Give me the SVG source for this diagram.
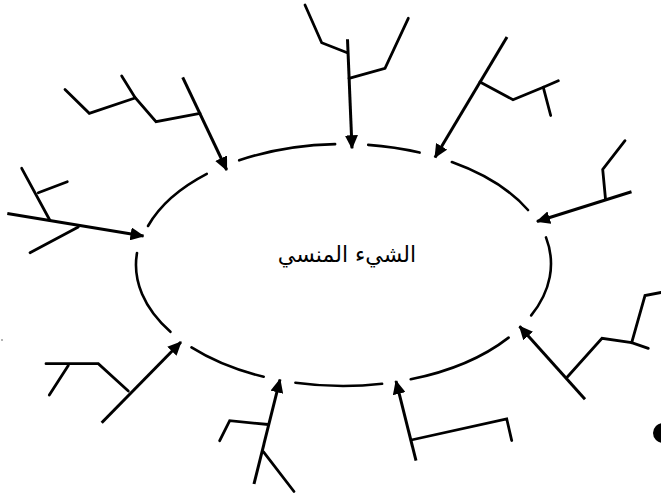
<svg xmlns="http://www.w3.org/2000/svg" width="661" height="498" viewBox="0 0 661 498">
<style>
.rim{fill:none;stroke:#000;stroke-width:2.6;stroke-linecap:round}
.twig{fill:none;stroke:#000;stroke-width:2.8;stroke-linecap:round;stroke-linejoin:miter}
.shaft{fill:none;stroke:#000;stroke-width:3;stroke-linecap:butt;marker-end:url(#ah)}
.lbl{font-family:"DejaVu Sans",sans-serif;font-size:22px;fill:#000;text-anchor:middle}
</style>
<defs>
<marker id="ah" viewBox="0 0 14 13" refX="13" refY="6.5" markerWidth="14" markerHeight="13" markerUnits="userSpaceOnUse" orient="auto">
<path d="M0,0 L14,6.5 L0,13 z" fill="#000"/>
</marker>
</defs>
<rect width="661" height="498" fill="#fff"/>
<g id="center">
<path class="rim" d="M170.4,331.8 A207,121 0 0 1 137,253"/>
<path class="rim" d="M148,226 A207,121 0 0 1 206.8,173.9"/>
<path class="rim" d="M239.2,160.3 A207,121 0 0 1 335.1,144.1"/>
<path class="rim" d="M368.2,144.9 A207,121 0 0 1 419.6,152.6"/>
<path class="rim" d="M451.9,162 A207,121 0 0 1 528,210"/>
<path class="rim" d="M546,237.4 A207,121 0 0 1 531.2,315.4"/>
<path class="rim" d="M508.6,337.6 A207,121 0 0 1 410.7,379.3"/>
<path class="rim" d="M382.1,383.8 A207,121 0 0 1 295.4,382.7"/>
<path class="rim" d="M263.7,376.8 A207,121 0 0 1 191.5,347.4"/>
<text class="lbl" x="347" y="262" direction="rtl">الشيء المنسي</text>
</g>
<g id="branch-a">
<polyline class="twig" points="65,89.5 89.3,113.3 135,98"/>
<polyline class="twig" points="121.7,76 135,97.5 156,121.7 200,113.3"/>
</g>
<g id="branch-b">
<line class="twig" x1="21.7" y1="168.3" x2="50" y2="220.5"/>
<line class="twig" x1="38.3" y1="192.7" x2="67.3" y2="181.7"/>
<line class="twig" x1="78.3" y1="227" x2="30" y2="252.7"/>
</g>
<g id="branch-c">
<polyline class="twig" points="305,5 321.7,42.7 347.3,52.7"/>
<polyline class="twig" points="349,78.3 385,68.3 408.3,18.3"/>
</g>
<g id="branch-d">
<polyline class="twig" points="480,82 513,99.7 543.3,87.3 558.3,80.8"/>
<line class="twig" x1="543.3" y1="87.3" x2="550.7" y2="115.5"/>
</g>
<g id="branch-e">
<polyline class="twig" points="605.5,199 602.7,169.3 625,140.7"/>
</g>
<g id="branch-f">
<polyline class="twig" points="567.3,377 602,338.3 631.7,342.7 648.3,348.3"/>
<polyline class="twig" points="631.7,342.7 645,295.5 661,292.5"/>
</g>
<g id="branch-g">
<polyline class="twig" points="128.3,391 98.3,363.7 46,363.7"/>
<line class="twig" x1="68.3" y1="365.5" x2="49.3" y2="395"/>
</g>
<g id="branch-h">
<polyline class="twig" points="268.3,424.5 229.7,420.7 219.7,440.7"/>
<line class="twig" x1="263.3" y1="451.7" x2="294" y2="491.5"/>
</g>
<g id="branch-i">
<polyline class="twig" points="411.2,440 506.7,418.8 511.7,440.5"/>
</g>
<g id="connectors">
<line class="shaft" x1="182.7" y1="77.3" x2="226.7" y2="170"/>
<line class="shaft" x1="7.3" y1="213.5" x2="143.5" y2="236"/>
<line class="shaft" x1="347.5" y1="39.3" x2="352" y2="148.3"/>
<line class="shaft" x1="507" y1="37" x2="435" y2="157.5"/>
<line class="shaft" x1="631.5" y1="191.7" x2="537" y2="221.5"/>
<line class="shaft" x1="585" y1="399.3" x2="519.5" y2="326.3"/>
<line class="shaft" x1="101.7" y1="422.7" x2="181" y2="342"/>
<line class="shaft" x1="254" y1="484" x2="280" y2="379.5"/>
<line class="shaft" x1="416" y1="460.7" x2="396" y2="381"/>
</g>
<g id="marks">
<circle cx="663" cy="433" r="10" fill="#000"/>
<circle cx="2" cy="340" r="0.8" fill="#555"/>
</g>
</svg>
